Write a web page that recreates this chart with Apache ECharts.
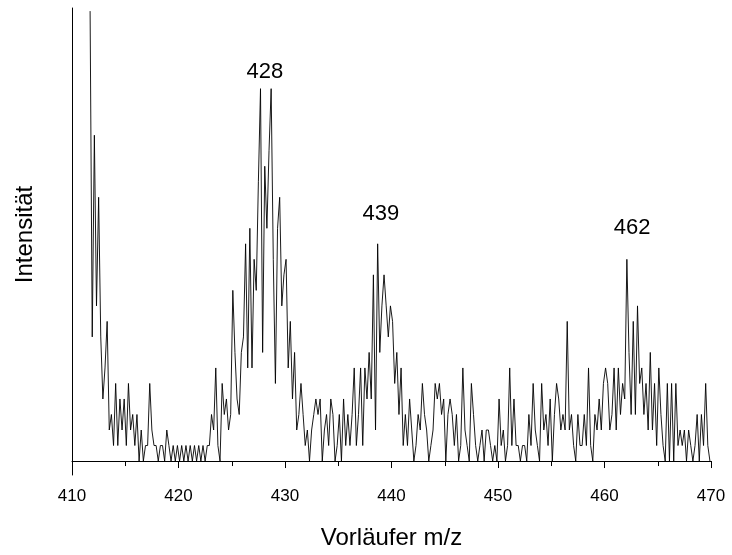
<!DOCTYPE html>
<html>
<head>
<meta charset="utf-8">
<script src="https://cdn.jsdelivr.net/npm/echarts@6/dist/echarts.min.js"></script>
<style>html,body{margin:0;padding:0;background:#fff;}#c{width:732px;height:555px;}</style>
</head>
<body>
<div id="c"></div>
<script>
// m/z grid: first point and spacing of the recorded spectrum
const mzStart = 411.7;
const mzStep = 0.2;
// Intensities (counts), segment by segment
const seg411 = [29,8,21,10,17,8,4,6,9,2,3,1,5,1,4,2,4,1,5,2,3,1,3,0,2,0,1,1,5,2,1,1,0,1,1,0,2,1,0,1,0,1];
const seg420 = [0,1,0,1,0,1,0,1,0,1,0,1,0,1,1,3,2,6,1,0,5,3,4,2,3,11,7,4,3,7,8,14,6,15,6,13,11,18,24,7,19,15,20,24,13,5,15,17,10,12];
const seg430 = [13,6,9,4,7,2,3,5,3,1,2,0,2,3,4,3,4,0,2,3,1,4,3,0,1,3,0,4,1,3,1,3,6,1,3,6,1,6,4,7,4,12,2,14,7,10,12,10,8,10];
const seg440 = [9,5,7,3,6,1,3,1,4,2,0,1,3,2,5,3,2,0,1,2,5,4,5,3,4,0,3,4,3,1,3,0,1,6,2,1,0,5,3,1,0,1,2,0,2,2,1,0,1,0];
const seg450 = [4,1,2,0,1,6,1,4,1,1,0,1,1,0,3,1,5,2,1,0,5,2,3,1,4,0,3,5,4,2,3,2,9,2,3,1,0,3,1,1,3,1,6,1,0,3,2,4,2,5];
const seg460 = [6,5,2,3,6,2,6,3,5,4,13,7,3,9,3,10,5,6,3,5,2,7,2,5,1,6,3,1,0,5,0,5,0,5,1,2,1,2,0,2,1,0,1,3,0,3,1,5,1,0];
// Peak annotations
const peakLabels = ['428','439','462'];
const peakLabelMz = [428.1, 439.0, 462.6];
const peakLabelY = [25.1, 15.9, 15.0];
// Axis ticks
const xMin = 410, xMax = 470, xInterval = 10;

const intensities = [].concat(seg411, seg420, seg430, seg440, seg450, seg460);
const spectrum = intensities.map((v, i) => [+(mzStart + i * mzStep).toFixed(2), v]);
const annotations = peakLabels.map((t, i) => ({ name: t, value: [peakLabelMz[i], peakLabelY[i]] }));

const chart = echarts.init(document.getElementById('c'), null, { renderer: 'canvas' });
const font = '"Liberation Sans", Arial, sans-serif';
chart.setOption({
  animation: false,
  backgroundColor: '#fff',
  grid: { left: 72, right: 21, top: 8, bottom: 80 },
  xAxis: {
    type: 'value', min: xMin, max: xMax, interval: xInterval,
    name: 'Vorläufer m/z', nameLocation: 'middle', nameGap: 51,
    nameTextStyle: { fontFamily: font, fontSize: 24, color: '#000' },
    axisLine: { lineStyle: { color: '#000', width: 1 } },
    axisTick: { show: true, length: 7, lineStyle: { color: '#000' } },
    minorTick: { show: true, splitNumber: 2, length: 5, lineStyle: { color: '#000' } },
    axisLabel: { fontFamily: font, fontSize: 17, color: '#000', margin: 13 },
    splitLine: { show: false }
  },
  yAxis: {
    type: 'value', min: -0.9, max: 29.2,
    name: 'Intensität', nameLocation: 'middle', nameGap: 35, nameRotate: 90,
    nameTextStyle: { fontFamily: font, fontSize: 24, color: '#000', padding: [0, 0, 0, 14] },
    axisLine: { show: true, lineStyle: { color: '#000', width: 1 } },
    axisTick: { show: false },
    axisLabel: { show: false },
    splitLine: { show: false }
  },
  series: [
    {
      type: 'line', data: spectrum, symbol: 'none',
      lineStyle: { color: '#000', width: 0.9 }, clip: true
    },
    {
      type: 'scatter', data: annotations, symbolSize: 0,
      itemStyle: { opacity: 1 },
      label: { show: true, position: 'inside', formatter: p => p.name, opacity: 1,
        fontFamily: font, fontSize: 22, color: '#000' }
    }
  ]
});
</script>
</body>
</html>
